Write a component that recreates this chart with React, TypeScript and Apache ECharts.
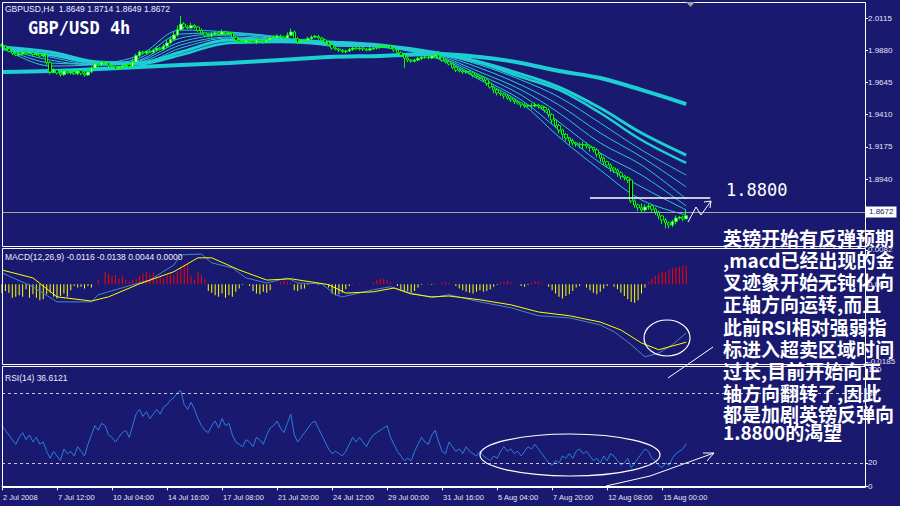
import React, { useEffect, useRef } from "react";
import * as echarts from "echarts";

// ---------- DATA ----------
const timeLabels = [
  "2 Jul 2008", "7 Jul 12:00", "10 Jul 04:00", "14 Jul 16:00", "17 Jul 08:00",
  "21 Jul 20:00", "24 Jul 12:00", "29 Jul 00:00", "31 Jul 16:00", "5 Aug 04:00",
  "7 Aug 20:00", "12 Aug 08:00", "15 Aug 00:00",
];
const slotCount = 252;
const labelEvery = 16;

const firstOpen = 1.992;
const closes = [
  1.9911, 1.989, 1.9872, 1.9858, 1.9845, 1.9852, 1.9866, 1.9858, 1.986, 1.9848,
  1.9852, 1.9838, 1.9845, 1.979, 1.9721, 1.9735, 1.9714, 1.9702, 1.9728, 1.9715,
  1.9721, 1.9708, 1.973, 1.9712, 1.9699, 1.9722, 1.975, 1.9779, 1.9772, 1.979,
  1.9787, 1.977, 1.9762, 1.9748, 1.9757, 1.9768, 1.9775, 1.976, 1.9794, 1.984,
  1.9867, 1.986, 1.9872, 1.9866, 1.9881, 1.9895, 1.9888, 1.991, 1.9933, 1.996,
  1.9991, 2.003, 2.0071, 2.005, 2.0042, 2.006, 2.0049, 2.0025, 2.0006, 1.999,
  1.9984, 1.9998, 2.0006, 1.9995, 2.0013, 2.0, 2.0006, 1.9975, 1.9954, 1.9945,
  1.994, 1.9952, 1.9947, 1.9938, 1.9954, 1.9948, 1.994, 1.9955, 1.9969, 1.9975,
  1.9984, 1.9978, 1.9969, 1.999, 2.0013, 1.9965, 1.994, 1.9948, 1.9954, 1.9965,
  1.9976, 1.9982, 1.9969, 1.9955, 1.994, 1.992, 1.9896, 1.9888, 1.9881, 1.987,
  1.9874, 1.9885, 1.9896, 1.989, 1.9896, 1.9888, 1.9881, 1.989, 1.9896, 1.99,
  1.9903, 1.9908, 1.9911, 1.9895, 1.9881, 1.9862, 1.9845, 1.9822, 1.9808, 1.98,
  1.9808, 1.982, 1.983, 1.9826, 1.9823, 1.9838, 1.9845, 1.9825, 1.9808, 1.9795,
  1.9779, 1.9755, 1.9736, 1.9728, 1.9721, 1.9725, 1.9714, 1.97, 1.9692, 1.968,
  1.9663, 1.964, 1.9611, 1.959, 1.9568, 1.956, 1.9546, 1.953, 1.9517, 1.9505,
  1.9495, 1.9482, 1.9473, 1.9478, 1.9473, 1.948, 1.9473, 1.9462, 1.9444, 1.941,
  1.9371, 1.933, 1.9298, 1.9265, 1.9239, 1.922, 1.9203, 1.9195, 1.9188, 1.9192,
  1.9181, 1.917, 1.9152, 1.912, 1.9093, 1.9065, 1.9042, 1.902, 1.9006, 1.8985,
  1.8962, 1.895, 1.8933, 1.878, 1.875, 1.873, 1.8714, 1.8735, 1.8743, 1.872,
  1.8699, 1.867, 1.8641, 1.862, 1.8604, 1.863, 1.8655, 1.8662, 1.8649, 1.8672,
];
// wick lengths in pips (0.0001)
const upWick = [
  12, 8, 10, 6, 9, 14, 8, 10, 7, 9, 8, 12, 6, 9, 10, 14, 8, 12, 9, 7,
  10, 8, 12, 6, 9, 15, 12, 18, 10, 8, 9, 7, 10, 8, 12, 9, 6, 10, 25, 14,
  12, 10, 8, 14, 9, 12, 8, 15, 20, 18, 25, 30, 60, 15, 12, 20, 10, 8, 12, 9,
  10, 12, 14, 8, 18, 10, 12, 8, 9, 7, 10, 8, 12, 9, 14, 8, 10, 12, 9, 15,
  12, 10, 8, 20, 25, 10, 9, 12, 8, 14, 12, 10, 8, 9, 7, 10, 8, 12, 9, 8,
  10, 12, 9, 8, 14, 10, 8, 12, 9, 10, 12, 18, 14, 8, 9, 7, 10, 8, 9, 6,
  10, 12, 9, 8, 12, 15, 10, 30, 12, 9, 8, 10, 7, 12, 9, 8, 10, 7, 12, 9,
  8, 10, 12, 9, 8, 12, 10, 8, 9, 10, 9, 8, 12, 10, 15, 18, 10, 8, 9, 12,
  10, 8, 12, 9, 10, 8, 14, 10, 12, 20, 15, 10, 8, 12, 9, 10, 8, 12, 9, 10,
  12, 9, 10, 8, 12, 10, 30, 20, 15, 10, 12, 10, 8, 14, 10, 12, 18, 9, 10, 42,
];
const downWick = [
  10, 12, 8, 14, 9, 10, 7, 12, 8, 10, 9, 10, 12, 20, 18, 10, 12, 15, 9, 10,
  12, 9, 10, 14, 12, 8, 9, 10, 12, 8, 10, 12, 9, 14, 10, 8, 12, 9, 10, 8,
  9, 12, 10, 8, 12, 9, 10, 8, 12, 10, 8, 12, 10, 14, 10, 9, 12, 10, 8, 14,
  10, 12, 8, 9, 10, 14, 8, 12, 15, 10, 9, 12, 10, 8, 14, 10, 12, 9, 8, 10,
  9, 10, 12, 8, 10, 15, 12, 9, 10, 8, 10, 8, 12, 9, 14, 10, 12, 8, 15, 10,
  12, 8, 10, 9, 12, 14, 10, 8, 9, 12, 10, 8, 12, 9, 14, 10, 12, 70, 15, 12,
  10, 8, 12, 9, 10, 8, 12, 10, 14, 12, 10, 12, 15, 10, 14, 12, 10, 18, 14, 12,
  15, 20, 12, 25, 18, 14, 20, 12, 15, 18, 12, 20, 15, 10, 25, 12, 20, 14, 18, 22,
  30, 20, 25, 30, 22, 35, 18, 20, 25, 30, 20, 30, 18, 22, 30, 25, 20, 28, 22, 30,
  25, 20, 22, 15, 20, 25, 15, 12, 20, 18, 22, 25, 30, 40, 25, 15, 20, 12, 18, 0,
];

// moving-average ribbon, sampled at these bar indices
const maIdx = [0, 14, 28, 40, 52, 66, 81, 95, 110, 127, 139, 151, 162, 174, 186, 199];
const maSlow = [1.9721, 1.9728, 1.9743, 1.9757, 1.9772, 1.9787, 1.9808, 1.983, 1.9838, 1.9852, 1.983, 1.9787, 1.9728, 1.9677, 1.959, 1.9487];
const maMidA = [1.9903, 1.9867, 1.9794, 1.9787, 1.9867, 1.9954, 1.9954, 1.994, 1.9918, 1.986, 1.9794, 1.9706, 1.9611, 1.9458, 1.9276, 1.9115];
const maMidB = [1.9889, 1.9845, 1.9787, 1.9779, 1.9845, 1.9933, 1.994, 1.9925, 1.9911, 1.9852, 1.9787, 1.9684, 1.959, 1.9422, 1.9225, 1.9057];
const maFast1 = [1.9903, 1.9765, 1.9779, 1.9845, 2.0027, 2.0013, 1.9976, 1.9911, 1.9903, 1.9816, 1.9663, 1.9495, 1.9247, 1.9006, 1.8787, 1.8677];
const maFast2 = [1.9903, 1.9787, 1.9779, 1.9823, 1.9998, 2.0006, 1.9969, 1.9918, 1.9903, 1.9823, 1.9677, 1.9517, 1.9298, 1.9057, 1.8882, 1.8714];
const maFast3 = [1.9896, 1.9808, 1.9772, 1.9808, 1.9969, 1.9998, 1.9969, 1.9925, 1.9911, 1.983, 1.9699, 1.9553, 1.9356, 1.913, 1.8969, 1.8743];
const maFast4 = [1.9896, 1.983, 1.9772, 1.9801, 1.994, 1.9991, 1.9962, 1.9933, 1.9911, 1.9838, 1.9721, 1.959, 1.9422, 1.9203, 1.9042, 1.8794];
const maFast5 = [1.9896, 1.9845, 1.9779, 1.9794, 1.9918, 1.9976, 1.9962, 1.9933, 1.9911, 1.9845, 1.975, 1.9626, 1.948, 1.9276, 1.9101, 1.8882];
const maFast6 = [1.9896, 1.986, 1.9787, 1.9787, 1.9896, 1.9969, 1.9954, 1.994, 1.9918, 1.9852, 1.9772, 1.9663, 1.9538, 1.9349, 1.9152, 1.8969];

// MACD
const macdIdx = [0, 9, 16, 26, 28, 36, 43, 50, 52, 58, 61, 67, 71, 77, 83, 86, 93, 97, 99, 108, 113, 119, 125, 130, 139, 148, 156, 165, 174, 178, 183, 187, 191, 195, 199];
const macdMain = [0.0027, -0.0006, -0.0042, -0.0042, -0.0025, -0.0006, 0.001, 0.0046, 0.007, 0.0072, 0.0051, 0.0039, 0.0015, 0.0003, 0.0015, 0.0003, 0.0001, -0.0025, -0.003, -0.0013, -0.0006, -0.0021, -0.0032, -0.0025, -0.0042, -0.0056, -0.0075, -0.008, -0.0097, -0.0113, -0.0144, -0.0173, -0.0164, -0.0144, -0.0116];
const signalIdx = [0, 9, 16, 26, 31, 40, 50, 57, 61, 69, 77, 84, 92, 95, 100, 108, 114, 119, 125, 130, 139, 148, 156, 165, 174, 180, 186, 191, 199];
const macdSignal = [0.0034, 0.0015, -0.003, -0.004, -0.003, 0.0001, 0.003, 0.0063, 0.0063, 0.0034, 0.001, 0.0013, 0.0003, -0.0001, -0.0021, -0.0018, -0.0009, -0.0023, -0.003, -0.0028, -0.0037, -0.0049, -0.0066, -0.0075, -0.009, -0.0109, -0.014, -0.0156, -0.0138];
// histogram in units of 0.0001
const macdHist = [
  -21, -16, -20, -32, -30, -26, -30, -12, -32, -24, -32, -38, -36, -24, -20, -30, -34, -28, -22, -30,
  -14, -4, -8, -6, -10, -4, -8, 0, 10, 0, 30, 24, 20, 22, 14, 20, 10, 6, 10, 14,
  20, 26, 30, 24, 28, 18, 20, 14, 22, 26, 22, 30, 40, 44, 48, 20, 12, 30, 22, 14,
  -16, -20, -26, -30, -22, -32, -26, -30, -18, -10, -2, 0, -4, -16, -22, -24, -18, -20, -14, 0,
  2, 6, 8, 6, 4, -14, -16, -12, -10, -2, 2, 0, -2, 2, 0, -8, -22, -26, -24, -20,
  -12, -4, 2, 0, 2, 0, 2, 0, 4, 10, 12, 14, 10, 4, 0, -4, -14, -18, -16, -20,
  -16, -8, -2, 0, 2, -2, 2, 0, 4, 6, 4, 0, -4, -10, -14, -18, -20, -22, -18, -14,
  -18, -16, -12, -6, -2, 4, 6, 8, 4, 2, 0, -4, -6, -2, 4, 8, 6, 2, 0, -6,
  -14, -22, -30, -34, -28, -24, -16, -8, -4, 0, -8, -14, -20, -24, -18, -10, -4, 0, -6, -12,
  -20, -28, -36, -42, -44, -38, -22, -8, 6, 14, 20, 26, 30, 28, 34, 38, 40, 42, 44, 44,
];

// RSI(14)
const rsi = [
  52, 48, 44, 40, 36, 42, 46, 40, 44, 38, 42, 36, 38, 30, 24, 30, 26, 22, 32, 28,
  30, 26, 34, 30, 26, 36, 44, 52, 48, 54, 52, 44, 42, 38, 42, 46, 48, 42, 52, 62,
  66, 60, 64, 58, 62, 66, 62, 68, 70, 74, 76, 80, 82, 70, 66, 72, 66, 58, 52, 48,
  46, 52, 56, 50, 58, 52, 54, 44, 38, 36, 34, 40, 38, 34, 42, 40, 36, 44, 50, 52,
  56, 50, 46, 54, 62, 44, 38, 42, 46, 50, 54, 56, 50, 44, 38, 32, 28, 30, 28, 26,
  30, 36, 42, 38, 42, 38, 34, 40, 44, 46, 48, 50, 52, 42, 36, 30, 26, 22, 24, 22,
  30, 36, 42, 38, 36, 44, 48, 38, 30, 28, 38, 34, 30, 32, 28, 34, 30, 28, 26, 30,
  26, 24, 22, 26, 24, 30, 34, 30, 32, 28, 30, 26, 30, 34, 32, 36, 32, 28, 24, 20,
  18, 22, 20, 26, 24, 28, 24, 30, 32, 28, 30, 26, 22, 24, 20, 26, 22, 28, 26, 22,
  18, 20, 24, 16, 20, 24, 28, 32, 30, 24, 22, 18, 16, 20, 18, 24, 28, 30, 32, 36.6121,
];

const priceTicks = [2.0115, 1.988, 1.9645, 1.941, 1.9175, 1.894, 1.8705];
const macdTicks = [0.0082, 0, -0.0185];
const rsiTicks = [100, 80, 20, 0];
const rsiLevels = [80, 20];
const lastPrice = 1.8672;
const targetPrice = 1.88;
const targetFrom = 171;
const targetTo = 206;

const headerText = "GBPUSD,H4  1.8649 1.8714 1.8649 1.8672";
const macdText = "MACD(12,26,9) -0.0116 -0.0138 0.0044 0.0000";
const rsiText = "RSI(14) 36.6121";
const noteLines = [
  "英镑开始有反弹预期",
  ",macd已经出现的金",
  "叉迹象开始无钝化向",
  "正轴方向运转,而且",
  "此前RSI相对强弱指",
  "标进入超卖区域时间",
  "过长,目前开始向正",
  "轴方向翻转了,因此",
  "都是加剧英镑反弹向",
  "1.8800的渴望",
];

// ---------- CHART ----------
const BG = "#191970";
const AX = "#e4e4f4";
const FONT = "Liberation Sans";

export default function App() {
  const ref = useRef<HTMLDivElement>(null);
  useEffect(() => {
    if (!ref.current) return;
    const chart = echarts.init(ref.current, undefined, { renderer: "svg" });

    const cats: string[] = new Array(slotCount).fill("");
    timeLabels.forEach((t, k) => (cats[k * labelEvery] = t));

    const candles = closes.map((c, i) => {
      const o = i === 0 ? firstOpen : closes[i - 1];
      const hi = Math.max(o, c) + upWick[i] / 10000;
      const lo = Math.min(o, c) - downWick[i] / 10000;
      return [o, c, lo, hi];
    });
    const pairs = (idx: number[], vals: number[]) => idx.map((x, k) => [x, vals[k]]);

    const maLine = (vals: number[], width: number, color: string) => ({
      type: "line",
      xAxisIndex: 0,
      yAxisIndex: 0,
      data: pairs(maIdx, vals),
      symbol: "none",
      smooth: 0.35,
      lineStyle: { width, color },
      silent: true,
      z: 2,
    });

    const xBase = (gi: number) => ({
      type: "category",
      gridIndex: gi,
      data: cats,
      boundaryGap: false,
      show: gi === 2,
      axisLine: { show: true, lineStyle: { color: "#ffffff", width: 1 } },
      axisTick: {
        show: true,
        interval: (_i: number, v: string) => v !== "",
        length: 4,
        lineStyle: { color: "#ffffff" },
      },
      axisLabel: {
        show: true,
        interval: (_i: number, v: string) => v !== "",
        align: "left",
        color: AX,
        fontSize: 7.5,
        fontFamily: FONT,
        margin: 6,
        padding: [0, 0, 0, 1],
      },
      splitLine: { show: false },
    });

    const yBase = (gi: number, min: number, max: number, ticks: number[], fmt: (v: number) => string) => ({
      type: "value",
      gridIndex: gi,
      position: "right",
      min,
      max,
      splitLine: { show: false },
      axisLine: { show: false },
      axisTick: { show: true, customValues: ticks, length: 3, lineStyle: { color: "#ffffff" } },
      axisLabel: { customValues: ticks, formatter: fmt, color: AX, fontSize: 8, fontFamily: FONT, margin: 3 },
    });

    const txt = (x: number, y: number, text: string, extra: any = {}) => ({
      type: "text",
      x,
      y,
      z: 30,
      silent: true,
      style: {
        text,
        fill: "#eeeef8",
        fontSize: 8.5,
        fontFamily: FONT,
        textVerticalAlign: "middle",
        ...extra,
      },
    });

    const panel = (y: number, h: number) => ({
      type: "rect",
      z: 20,
      silent: true,
      shape: { x: 2.5, y: y + 0.5, width: 863, height: h },
      style: { fill: "none", stroke: "#ffffff", lineWidth: 1 },
    });

    const noteY = [237, 259, 281, 303, 326, 348, 370, 392, 413, 431];

    const option: any = {
      animation: false,
      backgroundColor: BG,
      textStyle: { fontFamily: FONT },
      grid: [
        { left: 2, top: 2, width: 863, height: 244 },
        { left: 2, top: 249, width: 863, height: 115 },
        { left: 2, top: 367, width: 863, height: 120 },
      ],
      xAxis: [xBase(0), xBase(1), xBase(2)],
      yAxis: [
        yBase(0, 1.8451, 2.0232, priceTicks, (v) => v.toFixed(4)),
        yBase(1, -0.019, 0.0084, macdTicks, (v) => (v === 0 ? "0.00" : v.toFixed(4))),
        yBase(2, -0.6, 102.3, rsiTicks, (v) => String(v)),
      ],
      series: [
        {
          type: "candlestick",
          xAxisIndex: 0,
          yAxisIndex: 0,
          data: candles,
          barWidth: 3,
          z: 3,
          itemStyle: {
            color: "#ffffff",
            color0: "#000000",
            borderColor: "#00ff00",
            borderColor0: "#00ff00",
            borderWidth: 1,
          },
          markLine: {
            silent: true,
            symbol: "none",
            animation: false,
            data: [
              {
                yAxis: lastPrice,
                lineStyle: { color: "#a8a8a8", width: 1, type: "solid" },
                label: {
                  show: true,
                  position: "end",
                  distance: 1,
                  formatter: lastPrice.toFixed(4),
                  backgroundColor: "#ffffff",
                  color: BG,
                  fontSize: 8,
                  fontFamily: FONT,
                  padding: [2, 3, 1, 3],
                },
              },
              [
                {
                  coord: [targetFrom, targetPrice],
                  lineStyle: { color: "#ffffff", width: 1.5, type: "solid" },
                  label: { show: false },
                },
                { coord: [targetTo, targetPrice] },
              ],
            ],
          },
        },
        maLine(maSlow, 4, "#1ccfd2"),
        maLine(maMidA, 3, "#1ccfd2"),
        maLine(maMidB, 2.5, "#1ccfd2"),
        maLine(maFast6, 1, "#2cc8d8"),
        maLine(maFast5, 1, "#2cc8d8"),
        maLine(maFast4, 1, "#2cc8d8"),
        maLine(maFast3, 1, "#2cc8d8"),
        maLine(maFast2, 1, "#2cc8d8"),
        maLine(maFast1, 1, "#2cc8d8"),
        {
          type: "bar",
          xAxisIndex: 1,
          yAxisIndex: 1,
          barWidth: 1,
          silent: true,
          data: macdHist.map((v) => ({
            value: v / 10000,
            itemStyle: { color: v >= 0 ? "#ff0000" : "#ffff00" },
          })),
        },
        {
          type: "line",
          xAxisIndex: 1,
          yAxisIndex: 1,
          data: pairs(macdIdx, macdMain),
          symbol: "none",
          silent: true,
          lineStyle: { width: 1, color: "#4a86c0" },
        },
        {
          type: "line",
          xAxisIndex: 1,
          yAxisIndex: 1,
          data: pairs(signalIdx, macdSignal),
          symbol: "none",
          silent: true,
          lineStyle: { width: 1, color: "#ffff00" },
        },
        {
          type: "line",
          xAxisIndex: 2,
          yAxisIndex: 2,
          data: rsi,
          symbol: "none",
          silent: true,
          lineStyle: { width: 1, color: "#2a7ee0" },
          markLine: {
            silent: true,
            symbol: "none",
            label: { show: false },
            lineStyle: { color: "#c8c8d8", type: [3, 3], width: 1 },
            data: rsiLevels.map((v) => ({ yAxis: v })),
          },
        },
      ],
      graphic: [
        panel(2, 244),
        panel(248, 116),
        panel(366, 121),
        {
          type: "polygon",
          z: 25,
          silent: true,
          shape: { points: [[686, 2], [695, 2], [690.5, 7]] },
          style: { fill: "#a0a0a0" },
        },
        txt(5, 9, headerText),
        txt(28, 28, "GBP/USD 4h", { fill: "#ffffff", fontSize: 17, fontWeight: "bold", fontFamily: "DejaVu Sans Mono" }),
        txt(5, 257, macdText),
        txt(5, 378, rsiText),
        txt(726, 190, "1.8800", { fill: "#ffffff", fontSize: 17, fontFamily: "DejaVu Sans Mono" }),
        {
          type: "polyline",
          z: 25,
          silent: true,
          shape: { points: [[688, 222], [696, 207], [701, 215], [711, 201]] },
          style: { stroke: "#ffffff", lineWidth: 1, fill: "none" },
        },
        {
          type: "polyline",
          z: 25,
          silent: true,
          shape: { points: [[704, 202], [711, 201], [710, 208]] },
          style: { stroke: "#ffffff", lineWidth: 1, fill: "none" },
        },
        {
          type: "ellipse",
          z: 25,
          silent: true,
          shape: { cx: 667, cy: 338, rx: 23, ry: 18 },
          style: { stroke: "#ffffff", lineWidth: 1.2, fill: "none" },
        },
        {
          type: "line",
          z: 25,
          silent: true,
          shape: { x1: 668, y1: 378, x2: 713, y2: 347 },
          style: { stroke: "#ffffff", lineWidth: 1 },
        },
        {
          type: "ellipse",
          z: 25,
          silent: true,
          shape: { cx: 570, cy: 455, rx: 90, ry: 21 },
          style: { stroke: "#ffffff", lineWidth: 1.2, fill: "none" },
        },
        {
          type: "polyline",
          z: 25,
          silent: true,
          shape: { points: [[606, 486], [650, 476], [714, 453]] },
          style: { stroke: "#ffffff", lineWidth: 1, fill: "none" },
        },
        {
          type: "polyline",
          z: 25,
          silent: true,
          shape: { points: [[703, 453], [714, 453], [707, 461]] },
          style: { stroke: "#ffffff", lineWidth: 1, fill: "none" },
        },
        ...noteLines.map((t, k) =>
          txt(723, noteY[k], t, {
            fill: "#ffffff",
            fontSize: 19,
            fontWeight: "bold",
            fontFamily: "Noto Sans CJK SC",
          })
        ),
      ],
    };

    chart.setOption(option);
    return () => chart.dispose();
  }, []);

  return (
    <div
      ref={ref}
      style={{ position: "fixed", left: 0, top: 0, width: 900, height: 506, background: BG }}
    />
  );
}
